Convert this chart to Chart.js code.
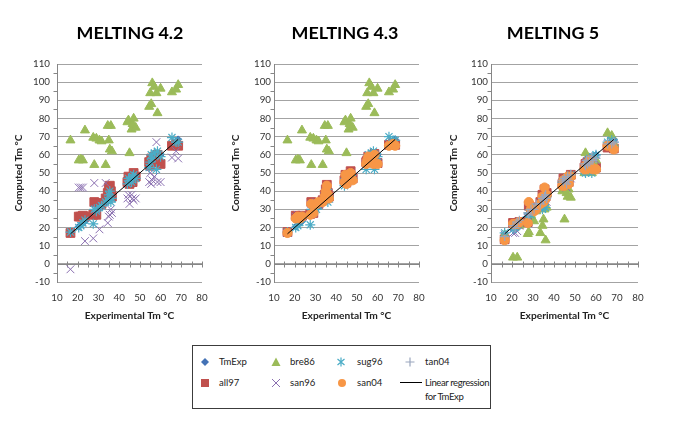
<!DOCTYPE html>
<html><head><meta charset="utf-8">
<script src="https://cdn.jsdelivr.net/npm/chart.js@4/dist/chart.umd.min.js"></script>
<style>
body{margin:0;background:#fff;width:685px;height:423px;overflow:hidden;position:relative;font-family:Lato,sans-serif;}
canvas{position:absolute;top:0;}
.ptitle{position:absolute;top:33px;transform:translate(-50%,-50%);font-weight:bold;color:#000;white-space:nowrap;line-height:1;}
#legend{position:absolute;left:192px;top:345px;width:299px;height:64px;border:1px solid #3c3c3c;box-sizing:border-box;}
.lt{position:absolute;color:#222;white-space:nowrap;}
.lm{position:absolute;}
.lm svg{display:block;}
</style></head><body>
<canvas id="c1" width="225" height="335" style="left:0px"></canvas>
<canvas id="c2" width="225" height="335" style="left:225px"></canvas>
<canvas id="c3" width="245" height="335" style="left:440px"></canvas>
<div id="titles"></div>
<div id="legend"></div>
<div id="legitems"></div>
<script>
// ---- data ----
const panelTitles = ['MELTING 4.2', 'MELTING 4.3', 'MELTING 5'];
const xTicks = [10, 20, 30, 40, 50, 60, 70, 80];
const yTicks = [-10, 0, 10, 20, 30, 40, 50, 60, 70, 80, 90, 100, 110];
const seriesNames = ['TmExp', 'all97', 'bre86', 'san96', 'sug96', 'san04', 'tan04', 'Linear regression for TmExp'];

// experimental Tm (°C) of the sequences (x values, also TmExp)
const expTm = [16.5, 20.5, 21.5, 22.5, 23.5, 27.5, 28, 29, 30.5, 31.5, 33.5, 34.5, 35, 35.5, 36, 36.5, 44, 44.5, 45, 46, 46.5, 47, 48, 54.5, 55, 55.5, 56, 57, 58, 58.5, 60, 65.5, 67.5, 68.5];

// MELTING 4.2
const all97_42 = [17, 26, 26, 26.5, 26, 27, 34, 27, 33.5, 33, 36, 39, 42, 43, 40, 37, 45, 48, 44, 47, 45, 50, 48, 56, 54, 58, 57, 59, 56, 60, 55, 65, 66, 65];
const bre86_42 = [68, 57, 57.5, 57, 73.5, 69.5, 54.5, 69, 68, 67.5, 54.5, 76, 68, 63, 76, 62, 78, 79, 61, 74, 77, 80, 75, 86.5, 94, 88, 99.5, 97.5, 94, 83, 96.5, 94.5, 96, 98.5];
const san96_42 = [-3, 42, 42, 42, 12.5, 14, 44.5, 30, 19, 32, 44.5, 22.5, 26, 27, 30, 28, 36, 38, 33, 38, 36, 35, 36, 45, 50, 44, 46, 48, 67, 45, 45, 58.5, 62, 58];
const sug96_42 = [17.5, 20, 21, 22.5, 24, 22, 30, 29, 31, 32, 34, 35, 38, 40, 34, 36, 44, 47, 46, 45, 48, 49, 47, 53, 56, 60, 58, 61, 52, 62, 59, 69.5, 67, 67];
const san04_42 = [];
const tan04_42 = [];

// MELTING 4.3
const all97_43 = [17.5, 26.5, 26, 25.5, 26.5, 27.5, 34, 28, 33.5, 33, 35, 38, 41, 43.5, 39, 37, 46, 49, 45, 47, 48, 51, 47, 56, 57, 59, 57, 58, 56, 60.5, 55.5, 65.5, 66.5, 65.5];
const bre86_43 = [68, 57, 57.5, 57, 73.5, 69.5, 54.5, 69, 68, 67.5, 54.5, 76, 68, 63, 76, 62, 78, 79, 61, 74, 77, 80, 75, 86.5, 94, 88, 99.5, 97.5, 94, 83, 96.5, 94.5, 96, 98.5];
const san96_43 = [17, 26, 27, 25, 26, 28, 33, 29, 34, 33, 35, 37, 40, 42, 39, 36, 45, 48, 44, 46, 47, 50, 48, 55, 56, 58, 57, 59, 57, 59, 56, 66, 67, 66];
const sug96_43 = [17.5, 20, 21, 23, 25, 21.5, 30, 28, 30, 32, 34, 36, 39, 41, 34, 37, 43, 47, 45, 46, 48, 49, 47, 52, 56, 60, 58, 61, 62, 52, 59, 70, 68, 68];
const san04_43 = [17, 25, 26, 25, 26, 27, 33, 28, 33, 34, 34, 37, 40, 43, 38, 36, 45, 49, 44, 46, 48, 50, 46, 55, 57, 59, 56, 58, 55, 60, 55, 65, 66, 65];
const tan04_43 = [];

// MELTING 5
const all97_5 = [13.5, 22.5, 22, 22.5, 23, 23, 32, 31, 30, 31, 34, 38, 35, 41, 37, 39, 44, 47, 44, 46, 47, 45, 49, 53, 55, 53, 56, 58, 54, 53, 53, 64, 65.5, 63.5];
const bre86_5 = [16, 3.5, 20, 3.5, 21, 16.5, 17.5, 27, 23.5, 29, 17, 21, 24.5, 30, 13, 31, 40, 42, 24.5, 39, 37, 41, 36.5, 50, 61, 52, 55, 58, 50, 56, 57, 72, 70.5, 66];
const san96_5 = [16, 17, 17, 18, 21, 25, 28, 29, 30, 31, 32, 33, 35, 37, 36, 34, 45, 44, 46, 42, 44, 46, 47, 53, 55, 56, 54, 57, 56, 58, 57, 66, 67, 66];
const sug96_5 = [17, 19, 20, 21, 23, 26, 28, 27, 30, 31, 31, 30, 35, 36, 31, 37, 45, 46, 44, 47, 45, 46, 49, 51, 50, 52, 57, 58, 50, 59, 60, 67, 68, 67];
const san04_5 = [13, 22, 22, 22, 23, 22.5, 34, 30, 29, 30, 33, 37, 34, 42, 36, 38, 43, 46, 43, 45, 48, 44, 48, 52, 54, 52, 55, 57, 53, 52, 52, 65, 65, 63];
const tan04_5 = [15, 21, 20, 23, 24, 28, 27, 30, 30, 33, 33, 36, 35, 37, 38, 36, 46, 45, 47, 44, 48, 46, 49, 55, 54, 57, 55, 56, 59, 57, 58, 66, 66, 67];

// regression line for TmExp (end points)
const regX = [16.5, 68.5];
const regY = [16.5, 68.5];

// ---- font sizing: fit text to the widths seen in the reference ----
const mctx = document.createElement('canvas').getContext('2d');
function fitSize(text, weight, target) {
  mctx.font = `${weight} 100px Lato`;
  return +(100 * target / mctx.measureText(text).width).toFixed(2);
}
const titleSize = fitSize('MELTING 4.2', 'bold', 107);
const axisTitleSize = (fitSize('Computed Tm °C', 'bold', 77) + fitSize('Experimental Tm °C', 'bold', 90)) / 2;
const tickSize = fitSize('110', 'normal', 17);
const legendSize = fitSize('TmExp', 'normal', 28);

// ---- drawing ----
Chart.defaults.font.family = 'Lato';

const style = {
  TmExp: {pointStyle: 'rectRot', radius: 3.5, color: '#4472b5', bw: 1},
  all97: {pointStyle: 'rect', radius: 6.2, color: '#c0504d', bw: 1},
  bre86: {pointStyle: 'triangle', radius: 5.2, color: '#9bbb59', bw: 1},
  san96: {pointStyle: 'crossRot', radius: 5.5, color: '#8a6fb0', bw: 1},
  sug96: {pointStyle: 'star', radius: 5, color: '#4bacc6', bw: 1.2},
  san04: {pointStyle: 'circle', radius: 4.6, color: '#f79646', bw: 1},
  tan04: {pointStyle: 'cross', radius: 4.5, color: '#9aa6bd', bw: 1.2}
};

function pts(ys) {
  const out = [];
  ys.forEach((y, i) => { if (y !== null && y !== undefined) out.push({x: expTm[i], y: y}); });
  return out;
}

const excelAxes = {
  id: 'excelAxes',
  beforeDatasetsDraw(chart) {
    const {ctx, chartArea: a, scales: {x, y}} = chart;
    ctx.save();
    ctx.strokeStyle = '#868686';
    ctx.lineWidth = 1;
    ctx.beginPath();
    const y0 = Math.round(y.getPixelForValue(0)) + 0.5;
    ctx.moveTo(a.left, y0); ctx.lineTo(a.right, y0);
    for (let v = xTicks[0] + 5; v <= xTicks[xTicks.length - 1]; v += 5) {
      const px = Math.round(x.getPixelForValue(v)) + 0.5;
      ctx.moveTo(px, y0 - 3); ctx.lineTo(px, y0 + 3);
    }
    const lx = Math.round(a.left) + 0.5;
    for (let v = yTicks[0] + 5; v < yTicks[yTicks.length - 1]; v += 10) {
      const py = Math.round(y.getPixelForValue(v)) + 0.5;
      ctx.moveTo(lx - 4, py); ctx.lineTo(lx, py);
    }
    ctx.stroke();
    ctx.restore();
  }
};

function ds(name, ys, order) {
  const s = style[name];
  return {
    label: name, data: pts(ys), order: order,
    pointStyle: s.pointStyle, pointRadius: s.radius, pointHoverRadius: s.radius,
    backgroundColor: s.color, borderColor: s.color, pointBorderWidth: s.bw, borderWidth: s.bw,
    showLine: false
  };
}

function makeChart(id, sets, g) {
  const datasets = [
    ds('TmExp', expTm, 7),
    ds('all97', sets.all97, 6),
    ds('bre86', sets.bre86, 5),
    ds('san96', sets.san96, 4),
    ds('sug96', sets.sug96, 3),
    ds('san04', sets.san04, 2),
    ds('tan04', sets.tan04, 1),
    {label: seriesNames[7], type: 'line', order: 0,
     data: regX.map((xv, i) => ({x: xv, y: regY[i]})),
     borderColor: '#000', borderWidth: 1, pointRadius: 0, showLine: true, fill: false}
  ];
  return new Chart(document.getElementById(id), {
    type: 'scatter',
    data: {datasets},
    options: {
      responsive: false, animation: false, devicePixelRatio: 1,
      layout: {padding: {left: 0, right: g.right, top: 64, bottom: 0}},
      plugins: {legend: {display: false}, tooltip: {enabled: false}, title: {display: false}},
      scales: {
        x: {
          type: 'linear', min: xTicks[0], max: xTicks[xTicks.length - 1],
          afterBuildTicks(s) { s.ticks = xTicks.map(v => ({value: v})); },
          ticks: {padding: 10, color: '#333', font: {size: tickSize}},
          grid: {display: false, drawTicks: false},
          border: {display: false},
          title: {display: true, text: 'Experimental Tm °C', color: '#222',
                  font: {size: axisTitleSize, weight: 'bold'}, padding: {top: 0, bottom: 13}},
          afterFit(s) { s.height = 335 - 282; }
        },
        y: {
          type: 'linear', min: yTicks[0], max: yTicks[yTicks.length - 1],
          afterBuildTicks(s) { s.ticks = yTicks.map(v => ({value: v})); },
          ticks: {padding: g.tickPad, color: '#333', font: {size: tickSize}},
          grid: {color: '#a3a3a3', drawTicks: false},
          border: {display: true, color: '#868686'},
          title: {display: true, text: 'Computed Tm °C', color: '#222',
                  font: {size: axisTitleSize, weight: 'bold'}, padding: g.titlePad},
          afterFit(s) { s.width = g.yWidth; }
        }
      }
    },
    plugins: [excelAxes]
  });
}

makeChart('c1', {all97: all97_42, bre86: bre86_42, san96: san96_42, sug96: sug96_42, san04: san04_42, tan04: tan04_42},
  {yWidth: 57, right: 23, tickPad: 7, titlePad: 13});
makeChart('c2', {all97: all97_43, bre86: bre86_43, san96: san96_43, sug96: sug96_43, san04: san04_43, tan04: tan04_43},
  {yWidth: 49, right: 31, tickPad: 3, titlePad: 5});
makeChart('c3', {all97: all97_5, bre86: bre86_5, san96: san96_5, sug96: sug96_5, san04: san04_5, tan04: tan04_5},
  {yWidth: 51, right: 47, tickPad: 3, titlePad: 8});

// ---- panel titles ----
const titleCenters = [130, 345, 553];
document.getElementById('titles').innerHTML = panelTitles.map((t, i) =>
  `<div class="ptitle" style="left:${titleCenters[i]}px;font-size:${titleSize}px">${t}</div>`).join('');

// ---- legend (HTML) ----
const legItems = [
  {name: 'TmExp', mx: 205, tx: 219, y: 362},
  {name: 'all97', mx: 205, tx: 219, y: 383},
  {name: 'bre86', mx: 276, tx: 290, y: 362},
  {name: 'san96', mx: 276, tx: 290, y: 383},
  {name: 'sug96', mx: 341, tx: 357, y: 362},
  {name: 'san04', mx: 342, tx: 357, y: 383},
  {name: 'tan04', mx: 410, tx: 425, y: 362}
];
function markerSvg(name) {
  const c = style[name].color;
  switch (name) {
    case 'TmExp': return `<svg width="10" height="10"><polygon points="5,1 9,5 5,9 1,5" fill="${c}"/></svg>`;
    case 'all97': return `<svg width="10" height="10"><rect x="1" y="1" width="8" height="8" fill="${c}"/></svg>`;
    case 'bre86': return `<svg width="10" height="10"><polygon points="5,0.5 9.5,9 0.5,9" fill="${c}"/></svg>`;
    case 'san96': return `<svg width="10" height="10"><path d="M1,1 L9,9 M9,1 L1,9" stroke="${c}" stroke-width="1"/></svg>`;
    case 'sug96': return `<svg width="10" height="10"><path d="M5,0.5 L5,9.5 M1.5,2 L8.5,8 M8.5,2 L1.5,8" stroke="${c}" stroke-width="1.2"/></svg>`;
    case 'san04': return `<svg width="10" height="10"><circle cx="5" cy="5" r="4" fill="${c}"/></svg>`;
    case 'tan04': return `<svg width="10" height="10"><path d="M5,0.5 L5,9.5 M0.5,5 L9.5,5" stroke="${c}" stroke-width="1.2"/></svg>`;
  }
  return '';
}
const lh = 14;
let html = '';
legItems.forEach(it => {
  html += `<div class="lm" style="left:${it.mx - 5}px;top:${it.y - 5}px;width:10px;height:10px">${markerSvg(it.name)}</div>`;
  html += `<div class="lt" style="left:${it.tx}px;top:${it.y - lh / 2}px;font-size:${legendSize}px;line-height:${lh}px">${it.name}</div>`;
});
html += `<div class="lm" style="left:400px;top:382px;width:22px;height:1px;background:#000"></div>`;
html += `<div class="lt" style="left:425px;top:${383 - lh / 2}px;font-size:${legendSize}px;line-height:${lh}px;letter-spacing:-0.4px">Linear regression<br>for TmExp</div>`;
document.getElementById('legitems').innerHTML = html;
</script>
</body></html>
